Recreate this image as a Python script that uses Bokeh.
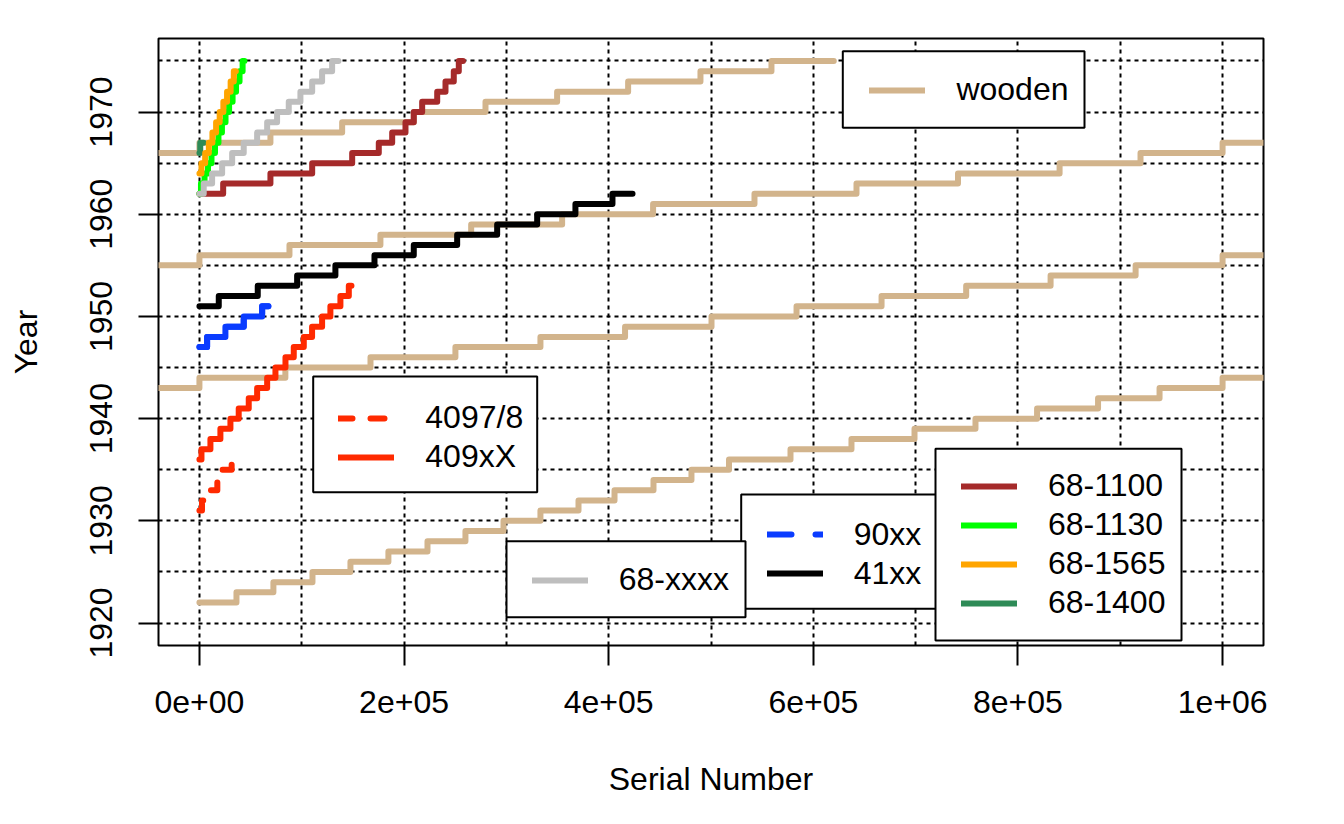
from bokeh.plotting import figure
from bokeh.models import Legend, LegendItem, FixedTicker, Range1d, BoxAnnotation
from bokeh.embed import file_html
from bokeh.resources import INLINE

# ---------------- data ----------------
# wooden: one continuous series, drawn wrapped every 1e6 serial numbers
wooden_serial = [0, 36200, 72300, 110500, 147600, 184700, 222900, 260000, 297200, 333300,
                 370500, 405700, 443800, 480900, 517600, 577700, 637300, 698900, 758500,
                 818700, 878300, 938400, 1000000, 1084000, 1167200, 1250200, 1333300,
                 1416000, 1500500, 1583600, 1666700, 1749400, 1831900, 1915000, 2000000,
                 2088000, 2176900, 2265600, 2354500, 2443400, 2542500, 2642200, 2741400,
                 2840700, 2919800, 3000000, 3069400, 3139500, 3209500, 3279600, 3349600,
                 3419000, 3489700, 3559100, 3620000]
wooden_year = [1922, 1923, 1924, 1925, 1926, 1927, 1928, 1929, 1930, 1931,
               1932, 1933, 1934, 1935, 1936, 1937, 1938, 1939, 1940,
               1941, 1942, 1943, 1944, 1945, 1946, 1947, 1948,
               1949, 1950, 1951, 1952, 1953, 1954, 1955, 1956,
               1957, 1958, 1959, 1960, 1961, 1962, 1963, 1964,
               1965, 1966, 1967, 1968, 1969, 1970, 1971, 1972,
               1973, 1974, 1975, 1975]
wooden_wraps = [0, 1000000, 2000000, 3000000]

s4097_serial = [0, 2500, 8500, 17500, 22000, 31500, 32500]
s4097_year = [1931, 1932, 1933, 1934, 1935, 1936, 1936]

s409x_serial = [0, 2000, 10750, 20500, 30300, 38400, 48200, 56400, 66200, 74300, 84100,
                92200, 102000, 110100, 119900, 128000, 137800, 146000, 148600]
s409x_year = [1936, 1937, 1938, 1939, 1940, 1941, 1942, 1943, 1944, 1945, 1946,
              1947, 1948, 1949, 1950, 1951, 1952, 1953, 1953]

s90_serial = [0, 7500, 25400, 43300, 61300, 67400]
s90_year = [1947, 1948, 1949, 1950, 1951, 1951]

s41_serial = [0, 18900, 57000, 95500, 132900, 171100, 209500, 251900, 291000, 330100,
              367500, 403700, 423300]
s41_year = [1951, 1952, 1953, 1954, 1955, 1956, 1957, 1958, 1959, 1960, 1961, 1962, 1962]

s1100_serial = [0, 23200, 69400, 110200, 149300, 175300, 188400, 201400, 209500, 217700,
                232400, 240500, 248600, 253500, 257600]
s1100_year = [1962, 1963, 1964, 1965, 1966, 1967, 1968, 1969, 1970, 1971, 1972, 1973,
              1974, 1975, 1975]

s1130_serial = [0, 1500, 5000, 8400, 11800, 15200, 18600, 22000, 25500, 29000, 32400,
                35800, 39200, 42200, 44000]
s1130_year = [1962, 1963, 1964, 1965, 1966, 1967, 1968, 1969, 1970, 1971, 1972, 1973,
              1974, 1975, 1975]

sxxxx_serial = [0, 4200, 12400, 22200, 32000, 43300, 56400, 66200, 75900, 87300, 98700,
                110200, 119900, 129700, 135900]
sxxxx_year = [1962, 1963, 1964, 1965, 1966, 1967, 1968, 1969, 1970, 1971, 1972, 1973,
              1974, 1975, 1975]

s1400_serial = [0, 800, 4000]
s1400_year = [1966, 1967, 1967]

s1565_serial = [0, 2000, 5600, 9200, 12700, 16300, 19800, 23400, 27000, 30500, 33600, 35600]
s1565_year = [1964, 1965, 1966, 1967, 1968, 1969, 1970, 1971, 1972, 1973, 1974, 1974]

x_ticks = [0, 200000, 400000, 600000, 800000, 1000000]
x_tick_labels = ["0e+00", "2e+05", "4e+05", "6e+05", "8e+05", "1e+06"]
y_ticks = [1920, 1930, 1940, 1950, 1960, 1970]
x_grid = [0, 100000, 200000, 300000, 400000, 500000, 600000, 700000, 800000, 900000, 1000000]
y_grid = [1920, 1925, 1930, 1935, 1940, 1945, 1950, 1955, 1960, 1965, 1970, 1975]

# ---------------- figure ----------------
FONT = "Liberation Sans"
FS = "32px"
LW = 6

p = figure(frame_width=1105, frame_height=607,
           min_border_left=158, min_border_right=62, min_border_top=38, min_border_bottom=179,
           x_range=Range1d(-40000, 1040000), y_range=Range1d(1917.8, 1977.2),
           output_backend="svg", toolbar_location=None)
p.background_fill_color = "white"
p.border_fill_color = "white"
p.outline_line_color = "black"
p.outline_line_width = 2
p.outline_line_alpha = 1

p.xgrid.ticker = FixedTicker(ticks=x_grid)
p.ygrid.ticker = FixedTicker(ticks=y_grid)
for g in (p.xgrid, p.ygrid):
    g.grid_line_color = "black"
    g.grid_line_dash = "4 4"
    g.grid_line_width = 2
    g.grid_line_alpha = 1

p.xaxis.ticker = FixedTicker(ticks=x_ticks)
p.xaxis.major_label_overrides = {t: l for t, l in zip(x_ticks, x_tick_labels)}
p.yaxis.ticker = FixedTicker(ticks=y_ticks)
p.yaxis.major_label_orientation = "vertical"
p.xaxis.axis_label = "Serial Number"
p.yaxis.axis_label = "Year"
for ax in (p.xaxis, p.yaxis):
    ax.axis_line_color = None
    ax.major_tick_line_color = "black"
    ax.major_tick_line_width = 2
    ax.major_tick_out = 20
    ax.major_tick_in = 0
    ax.minor_tick_line_color = None
    ax.major_label_text_font = FONT
    ax.major_label_text_font_size = FS
    ax.major_label_text_color = "black"
    ax.axis_label_text_font = FONT
    ax.axis_label_text_font_size = FS
    ax.axis_label_text_font_style = "normal"
    ax.axis_label_text_color = "black"
p.xaxis.major_label_standoff = 25
p.xaxis.axis_label_standoff = 45
p.yaxis.major_label_standoff = 26
p.yaxis.axis_label_standoff = 44


def stp(xs, ys, color, dash="solid"):
    return p.step(xs, ys, mode="after", line_color=color, line_width=LW,
                  line_cap="round", line_join="round", line_dash=dash)


TAN = "#D2B48C"
RED = "#FF2A00"
BLUE = "#0A3CFF"
BROWN = "#A52A2A"
GREEN = "#00FF00"
GRAY = "#BEBEBE"
SEAGREEN = "#2E8B57"
ORANGE = "#FFA500"

r_wood = [stp([s - w for s in wooden_serial], wooden_year, TAN) for w in wooden_wraps]
r_4097 = stp(s4097_serial, s4097_year, RED, "14 18")
r_409x = stp(s409x_serial, s409x_year, RED)
# 90xx: dashed copy (used by the legend) hidden under the solid line of the same data
r_90_leg = stp(s90_serial, s90_year, BLUE, "24 24")
r_90 = stp(s90_serial, s90_year, BLUE)
r_41 = stp(s41_serial, s41_year, "black")
r_1100 = stp(s1100_serial, s1100_year, BROWN)
r_1130 = stp(s1130_serial, s1130_year, GREEN)
r_xxxx = stp(sxxxx_serial, sxxxx_year, GRAY)
r_1400 = stp(s1400_serial, s1400_year, SEAGREEN)
r_1565 = stp(s1565_serial, s1565_year, ORANGE)


def add_legend(pairs, loc, box):
    left, right, bottom, top = box
    p.add_layout(BoxAnnotation(left=left, right=right, bottom=bottom, top=top,
                               left_units="screen", right_units="screen",
                               bottom_units="screen", top_units="screen",
                               fill_color="white", fill_alpha=1,
                               line_color="black", line_width=2, line_alpha=1), "center")
    lg = Legend(items=[LegendItem(label=lab, renderers=[r]) for lab, r in pairs],
                location=loc, orientation="vertical", padding=10, spacing=2, margin=0,
                glyph_width=56, glyph_height=36, label_height=36, label_standoff=31,
                label_text_font=FONT, label_text_font_size=FS, label_text_color="black",
                border_line_color=None, background_fill_alpha=0)
    p.add_layout(lg, "center")


add_legend([("wooden", r_wood[0])], (711.4, 537), (684.3, 926, 517.7, 594.3))
add_legend([("4097/8", r_4097), ("409xX", r_409x)], (180.3, 170), (154.7, 378.7, 153.3, 269))
add_legend([("90xx", r_90_leg), ("41xx", r_41)], (608.7, 53.5), (582.7, 778, 36.7, 151))
add_legend([("68-xxxx", r_xxxx)], (373.7, 47), (348, 587, 28.3, 104.3))
add_legend([("68-1100", r_1100), ("68-1130", r_1130), ("68-1565", r_1565),
            ("68-1400", r_1400)], (803, 24), (777, 1023, 5, 196.7))

open("out.html", "w").write(file_html(p, INLINE))
